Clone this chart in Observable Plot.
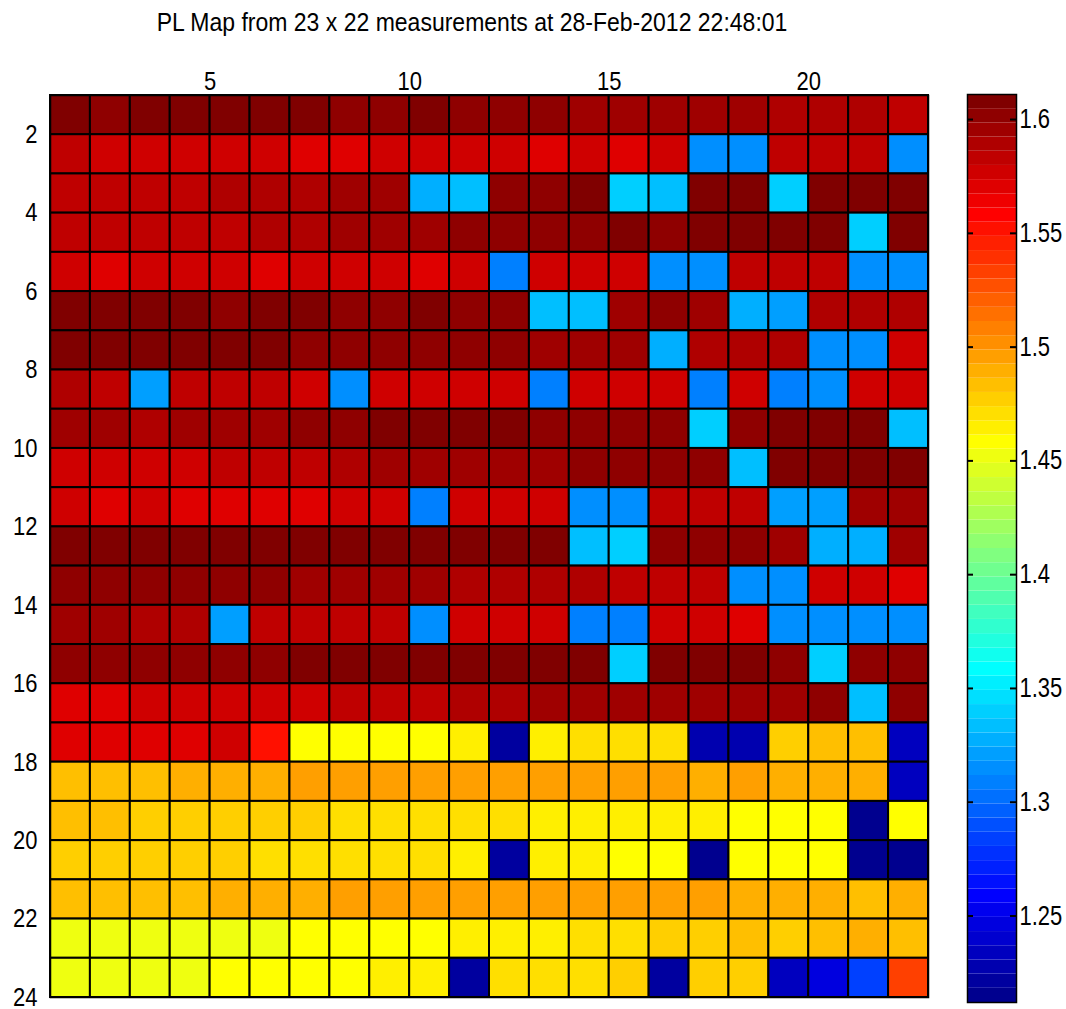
<!DOCTYPE html>
<html>
<head>
<meta charset="utf-8">
<script src="https://cdn.jsdelivr.net/npm/d3@7"></script>
<script src="https://cdn.jsdelivr.net/npm/@observablehq/plot@0.6"></script>
<style>
  body { margin: 0; background: #fff; }
  #wrap { position: relative; width: 1066px; height: 1009px; overflow: hidden;
          font-family: "Liberation Sans", Arial, sans-serif; }
  #title { position: absolute; left: 0; top: 11.5px; width: 944px; text-align: center;
           font-size: 23px; line-height: 23px; color: #000; white-space: nowrap;
           transform: scaleY(1.12); transform-origin: 50% 19.5px; }
  #main { position: absolute; left: 0; top: 40px; }
  #cbar { position: absolute; left: 940px; top: 40px; }
</style>
</head>
<body>
<div id="wrap">
  <div id="title"></div>
  <div id="main"></div>
  <div id="cbar"></div>
</div>
<script>
const titleText = "PL Map from 23 x 22 measurements at 28-Feb-2012 22:48:01";

// PL values, one array per row (row 1 at top), 22 columns each
const r01 = [1.608,1.602,1.608,1.608,1.608,1.608,1.608,1.602,1.602,1.608,1.602,1.602,1.602,1.595,1.595,1.595,1.595,1.595,1.589,1.589,1.589,1.583];
const r02 = [1.583,1.577,1.577,1.577,1.577,1.577,1.570,1.570,1.577,1.577,1.577,1.577,1.570,1.577,1.570,1.577,1.315,1.315,1.583,1.583,1.583,1.315];
const r03 = [1.583,1.583,1.583,1.583,1.589,1.589,1.589,1.595,1.595,1.327,1.334,1.602,1.602,1.608,1.340,1.334,1.608,1.608,1.340,1.608,1.608,1.608];
const r04 = [1.583,1.583,1.583,1.583,1.583,1.589,1.589,1.595,1.595,1.595,1.602,1.602,1.602,1.602,1.608,1.602,1.608,1.608,1.608,1.608,1.340,1.608];
const r05 = [1.577,1.570,1.577,1.577,1.577,1.570,1.577,1.577,1.577,1.570,1.577,1.309,1.577,1.577,1.577,1.315,1.315,1.583,1.583,1.583,1.315,1.315];
const r06 = [1.608,1.608,1.608,1.608,1.602,1.608,1.608,1.602,1.602,1.608,1.602,1.602,1.334,1.334,1.595,1.602,1.595,1.327,1.321,1.589,1.589,1.589];
const r07 = [1.608,1.608,1.608,1.608,1.608,1.608,1.602,1.602,1.602,1.602,1.602,1.602,1.595,1.595,1.595,1.327,1.589,1.589,1.589,1.315,1.315,1.577];
const r08 = [1.589,1.583,1.321,1.583,1.583,1.583,1.577,1.315,1.577,1.577,1.577,1.577,1.309,1.577,1.577,1.577,1.309,1.577,1.309,1.315,1.577,1.577];
const r09 = [1.595,1.595,1.589,1.595,1.595,1.595,1.602,1.602,1.608,1.608,1.608,1.608,1.602,1.602,1.602,1.602,1.340,1.602,1.608,1.608,1.608,1.334];
const r10 = [1.577,1.577,1.577,1.577,1.583,1.583,1.583,1.589,1.595,1.595,1.595,1.595,1.595,1.602,1.602,1.602,1.602,1.334,1.608,1.608,1.608,1.608];
const r11 = [1.577,1.570,1.577,1.570,1.570,1.570,1.570,1.577,1.577,1.309,1.577,1.577,1.577,1.315,1.315,1.583,1.583,1.583,1.321,1.321,1.595,1.595];
const r12 = [1.608,1.608,1.608,1.608,1.608,1.608,1.608,1.608,1.608,1.608,1.608,1.608,1.608,1.334,1.340,1.602,1.602,1.602,1.595,1.327,1.327,1.595];
const r13 = [1.602,1.602,1.602,1.602,1.602,1.602,1.595,1.595,1.595,1.595,1.589,1.589,1.589,1.589,1.583,1.583,1.583,1.315,1.315,1.577,1.577,1.570];
const r14 = [1.595,1.595,1.589,1.589,1.321,1.583,1.583,1.583,1.583,1.315,1.577,1.577,1.577,1.309,1.309,1.577,1.577,1.570,1.315,1.315,1.315,1.315];
const r15 = [1.602,1.602,1.602,1.602,1.602,1.602,1.608,1.608,1.608,1.608,1.608,1.608,1.608,1.608,1.340,1.608,1.608,1.608,1.602,1.340,1.602,1.602];
const r16 = [1.570,1.570,1.577,1.577,1.577,1.577,1.577,1.583,1.583,1.583,1.589,1.589,1.595,1.595,1.595,1.595,1.595,1.595,1.595,1.602,1.334,1.602];
const r17 = [1.570,1.570,1.570,1.570,1.577,1.552,1.458,1.458,1.458,1.458,1.465,1.221,1.465,1.471,1.471,1.471,1.228,1.228,1.477,1.483,1.483,1.234];
const r18 = [1.483,1.483,1.483,1.489,1.489,1.489,1.496,1.496,1.496,1.496,1.496,1.496,1.496,1.496,1.496,1.496,1.489,1.496,1.489,1.489,1.489,1.234];
const r19 = [1.483,1.483,1.477,1.477,1.477,1.477,1.477,1.471,1.471,1.471,1.471,1.471,1.465,1.465,1.465,1.465,1.465,1.458,1.458,1.458,1.215,1.458];
const r20 = [1.477,1.477,1.477,1.477,1.477,1.471,1.471,1.471,1.471,1.471,1.465,1.221,1.465,1.465,1.458,1.458,1.215,1.458,1.458,1.458,1.215,1.215];
const r21 = [1.483,1.483,1.483,1.483,1.489,1.489,1.489,1.496,1.496,1.496,1.496,1.496,1.496,1.496,1.496,1.496,1.496,1.489,1.489,1.489,1.483,1.489];
const r22 = [1.452,1.452,1.452,1.452,1.452,1.452,1.458,1.458,1.458,1.458,1.465,1.465,1.465,1.471,1.471,1.477,1.477,1.483,1.477,1.483,1.489,1.483];
const r23 = [1.452,1.452,1.452,1.452,1.458,1.458,1.458,1.458,1.465,1.465,1.221,1.471,1.471,1.471,1.477,1.221,1.477,1.477,1.234,1.246,1.284,1.533];
const rows = [r01,r02,r03,r04,r05,r06,r07,r08,r09,r10,r11,r12,r13,r14,r15,r16,r17,r18,r19,r20,r21,r22,r23];

// axis ticks
const xTicks = [5, 10, 15, 20];
const yTicks = [2, 4, 6, 8, 10, 12, 14, 16, 18, 20, 22, 24];
const cbTicks = [1.25, 1.3, 1.35, 1.4, 1.45, 1.5, 1.55, 1.6];
// colour axis limits
const cLimits = [1.212, 1.611];

// MATLAB jet(64)
function jet(m) {
  const n = Math.ceil(m / 4);
  const u = [...d3.range(1, n + 1).map(i => i / n), ...Array(n - 1).fill(1), ...d3.range(n, 0, -1).map(i => i / n)];
  const g0 = Math.ceil(n / 2) - (m % 4 === 1 ? 1 : 0);
  const R = Array(m).fill(0), G = Array(m).fill(0), B = Array(m).fill(0);
  u.forEach((val, k) => {
    const gi = g0 + k + 1, ri = gi + n, bi = gi - n;
    if (gi >= 1 && gi <= m) G[gi - 1] = val;
    if (ri >= 1 && ri <= m) R[ri - 1] = val;
    if (bi >= 1 && bi <= m) B[bi - 1] = val;
  });
  return d3.range(m).map(i => d3.rgb(R[i] * 255, G[i] * 255, B[i] * 255).formatHex());
}
const N = 64;
const jetColors = jet(N);
const step = (cLimits[1] - cLimits[0]) / N;
const thresholds = d3.range(1, N).map(i => cLimits[0] + i * step);
const colorScale = {type: "threshold", domain: thresholds, range: jetColors};

const cells = [];
rows.forEach((row, r) => row.forEach((v, c) => {
  cells.push({x1: c + 1, x2: c + 2, y1: r + 1, y2: r + 2, v});
}));

const font = '"Liberation Sans", Arial, sans-serif';

// stretch tick labels vertically, like the reference's tall glyphs
function stretchText(svg, k) {
  svg.querySelectorAll("text").forEach(t => {
    const tr = t.getAttribute("transform");
    if (tr) {
      t.setAttribute("transform", tr + ` scale(1,${k})`);
    } else {
      const x = +(t.getAttribute("x") || 0), y = +(t.getAttribute("y") || 0);
      t.removeAttribute("x"); t.removeAttribute("y");
      t.setAttribute("transform", `translate(${x},${y}) scale(1,${k})`);
    }
  });
}

document.getElementById("title").textContent = titleText;

const main = Plot.plot({
  width: 940, height: 969,
  marginTop: 55, marginBottom: 12, marginLeft: 50, marginRight: 12,
  style: {fontFamily: font, fontSize: "22px", color: "#000", background: "#fff", overflow: "visible"},
  x: {domain: [1, 23]},
  y: {domain: [1, 24], reverse: true},
  color: colorScale,
  marks: [
    Plot.rect(cells, {x1: "x1", x2: "x2", y1: "y1", y2: "y2", fill: "v", stroke: "#000", strokeWidth: 2}),
    Plot.frame({stroke: "#000", strokeWidth: 1.5}),
    Plot.axisX(xTicks, {anchor: "top", tickSize: 0, tickPadding: 6, tickFormat: d => String(d)}),
    Plot.axisY(yTicks, {anchor: "left", tickSize: 0, tickPadding: 13, tickFormat: d => String(d)})
  ]
});
stretchText(main, 1.18);
document.getElementById("main").appendChild(main);

const bands = d3.range(N).map(i => ({y1: cLimits[0] + i * step, y2: cLimits[0] + (i + 1) * step, v: cLimits[0] + (i + 0.5) * step}));

const cbar = Plot.plot({
  width: 126, height: 969,
  marginTop: 54, marginBottom: 7, marginLeft: 27, marginRight: 50,
  style: {fontFamily: font, fontSize: "22px", color: "#000", background: "#fff", overflow: "visible"},
  y: {domain: cLimits},
  color: colorScale,
  marks: [
    Plot.rect(bands, {y1: "y1", y2: "y2", fill: "v"}),
    Plot.tickY(cbTicks, {y: d => d, stroke: "#000", strokeWidth: 2, insetRight: 43}),
    Plot.tickY(cbTicks, {y: d => d, stroke: "#000", strokeWidth: 2, insetLeft: 43}),
    Plot.frame({stroke: "#000", strokeWidth: 1.5}),
    Plot.axisY(cbTicks, {anchor: "right", tickSize: 0, tickPadding: 3, tickFormat: d => String(+d.toFixed(2))})
  ]
});
stretchText(cbar, 1.22);
document.getElementById("cbar").appendChild(cbar);
</script>
</body>
</html>
